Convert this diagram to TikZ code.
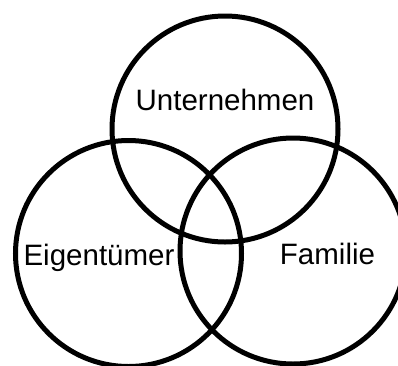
\documentclass[tikz,border=0pt]{standalone}
\usepackage{fontspec}
\setmainfont{Liberation Sans}
\usepackage{tikz}
\usetikzlibrary{positioning}
\tikzset{
  venn/.style={
    circle, draw=black, line width=5pt, minimum size=226pt,
    inner sep=0pt
  },
  vennlabel/.style={
    font=\fontsize{29.5}{35}\selectfont, anchor=base, inner sep=0pt
  }
}
\begin{document}
\begin{tikzpicture}[x=1pt, y=-1pt]
  \useasboundingbox (0,0) rectangle (398,365);
  \clip (0,0) rectangle (398,365);
  % circles
  \node[venn] (unt) at (225,129)   {};
  \node[venn] (eig) at (128.5,253.5) {};
  \node[venn] (fam) at (293,251)   {};

  % labels
  \node[vennlabel] (untlab) at (225,110) {Unternehmen};
  \node[vennlabel] (eiglab) at (99,265)  {Eigentümer};
  \node[vennlabel] (famlab) at (327.5,264) {Familie};
\end{tikzpicture}
\end{document}
